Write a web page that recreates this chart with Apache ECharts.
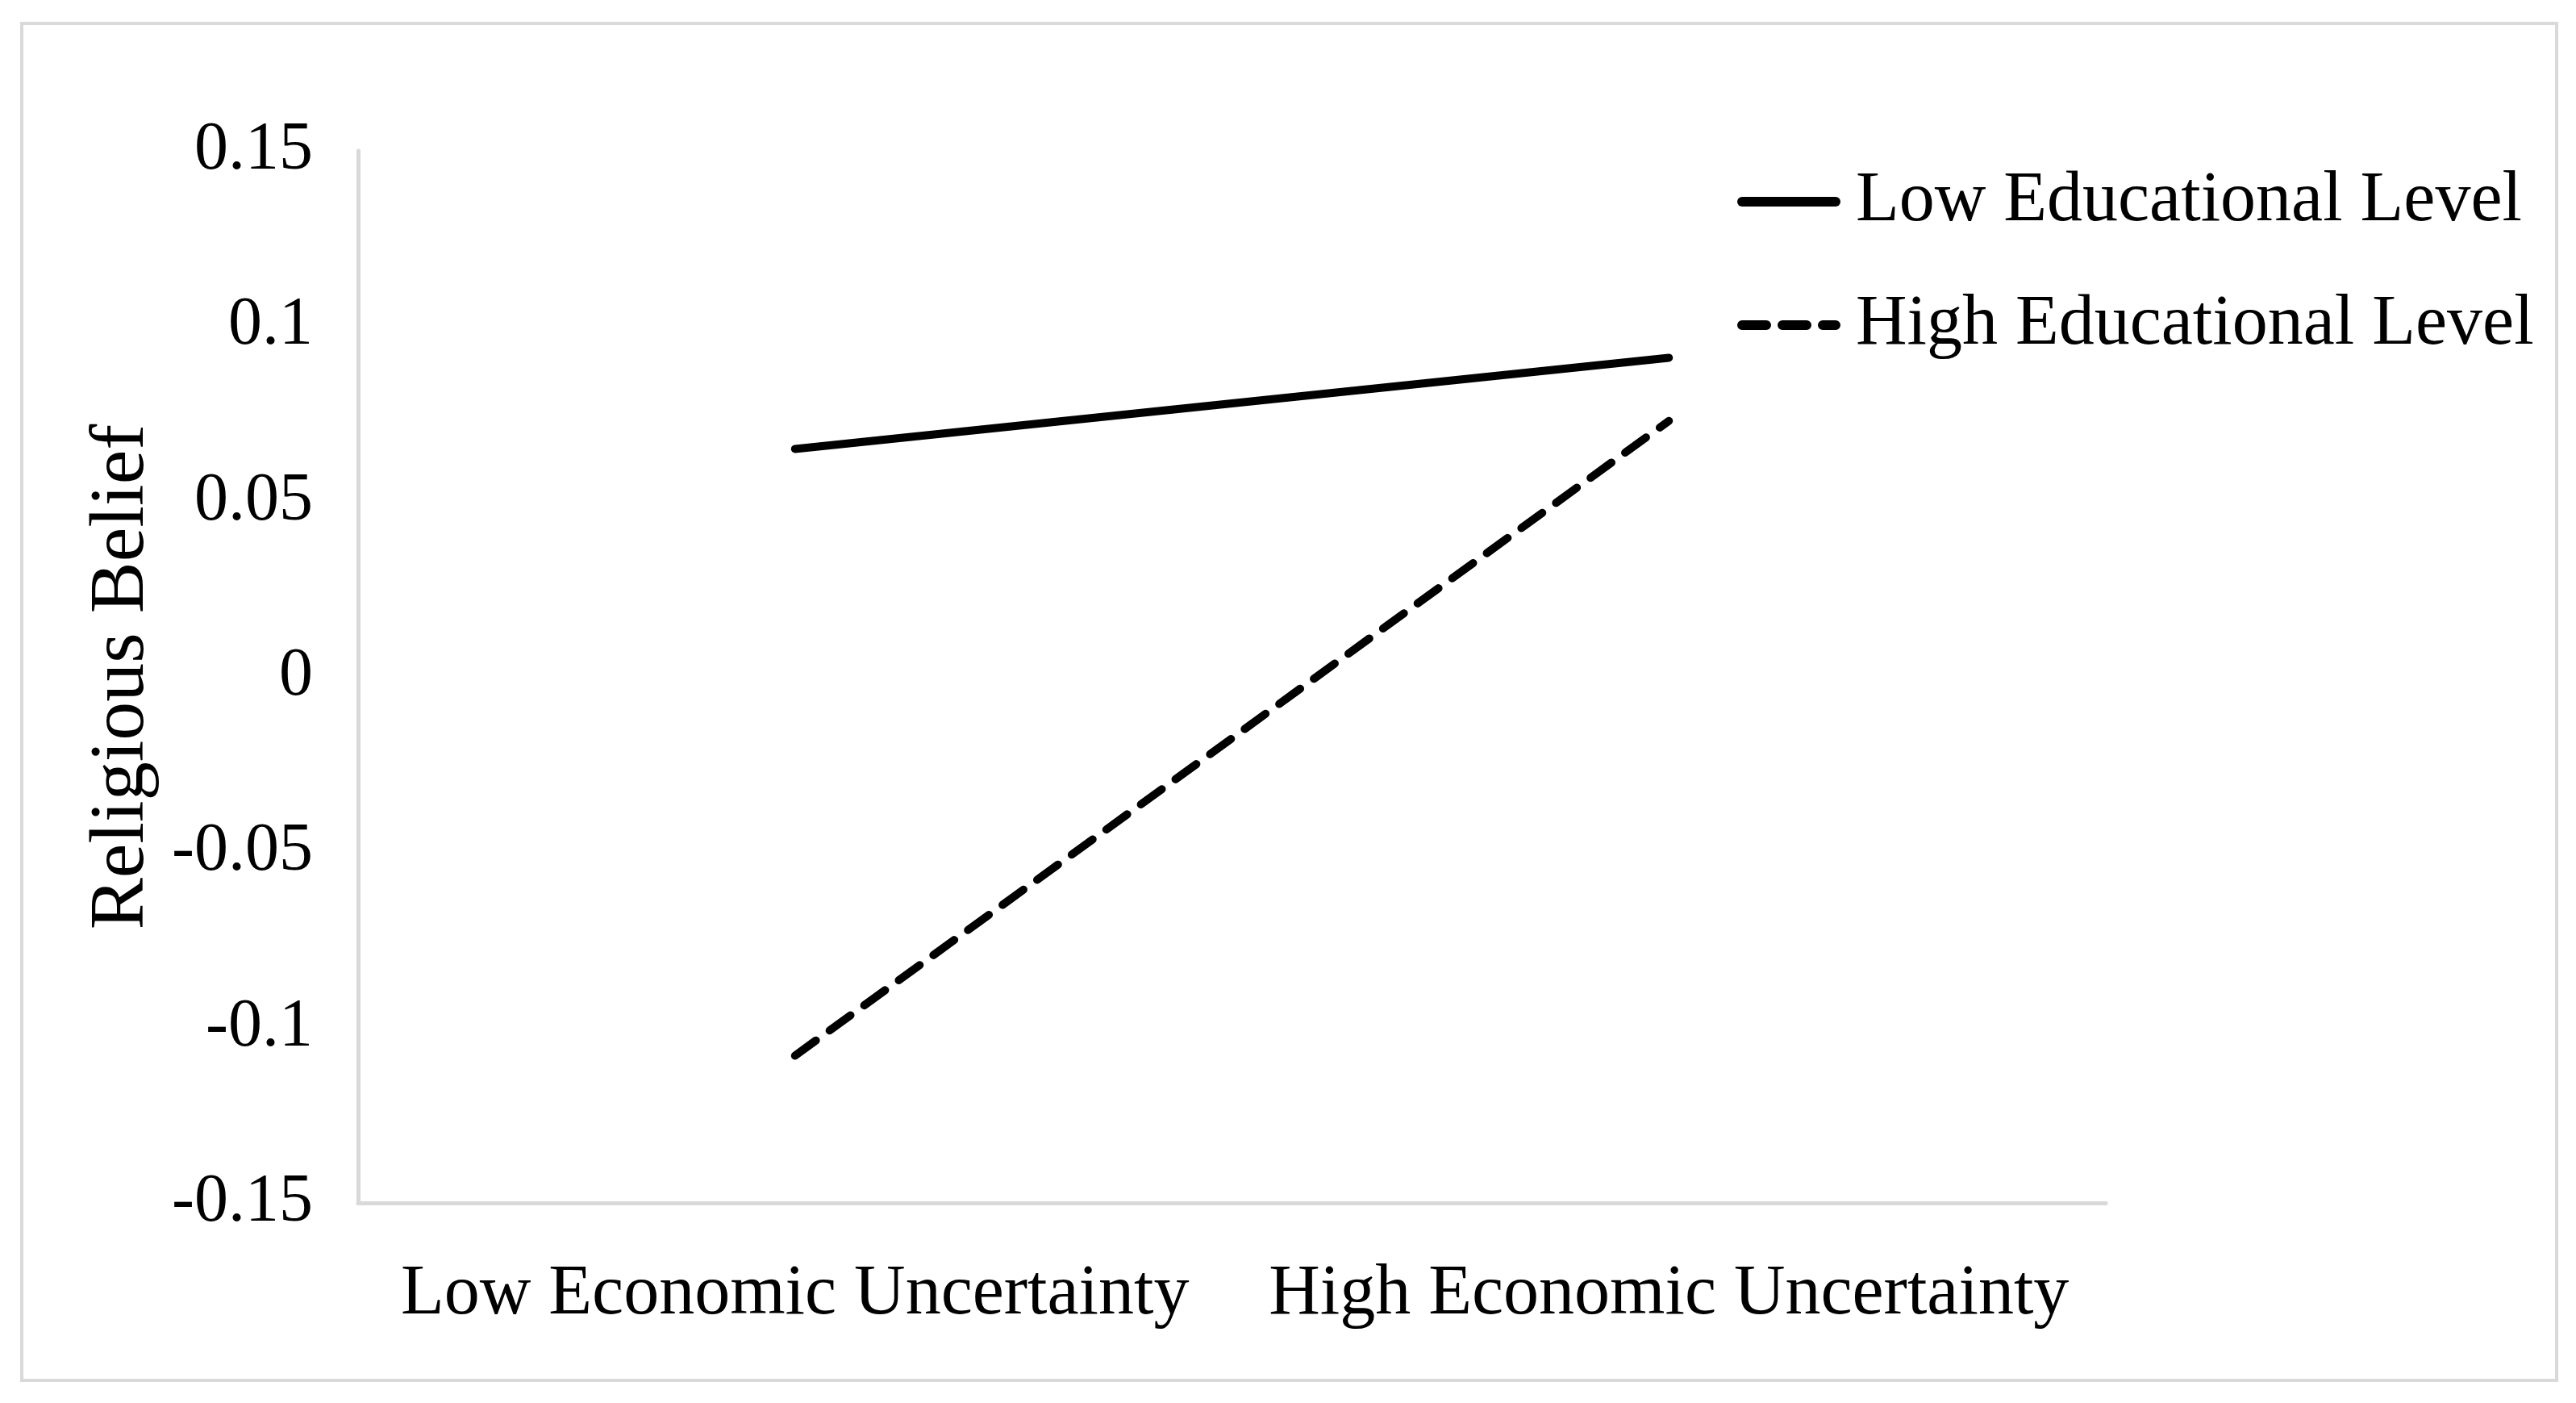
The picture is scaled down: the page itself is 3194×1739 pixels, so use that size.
<!DOCTYPE html>
<html>
<head>
<meta charset="utf-8">
<script src="https://cdn.jsdelivr.net/npm/echarts@6/dist/echarts.min.js"></script>
<style>
html,body{margin:0;padding:0;background:#fff;}
#chart{width:3194px;height:1739px;}
</style>
</head>
<body>
<div id="chart"></div>
<script>
const categories = ['Low Economic Uncertainty', 'High Economic Uncertainty'];
const seriesNames = ['Low Educational Level', 'High Educational Level'];
const lowEduValues = [0.065, 0.091];
const highEduValues = [-0.108, 0.073];
const yAxisName = 'Religious Belief';

const FONT = '"Liberation Serif", "DejaVu Serif", serif';
const FS_TICK = 84;
const FS_TEXT = 88;

// legend icons: thick solid bar and three rounded dashes
const solidIcon = 'path://M6,0 H122 A6,6 0 0 1 122,12 H6 A6,6 0 0 1 6,0 Z';
const dashIcon = 'path://M6,0 H36 A6,6 0 0 1 36,12 H6 A6,6 0 0 1 6,0 Z ' +
                 'M56,0 H86 A6,6 0 0 1 86,12 H56 A6,6 0 0 1 56,0 Z ' +
                 'M106,0 H122 A6,6 0 0 1 122,12 H106 A6,6 0 0 1 106,0 Z';

const chart = echarts.init(document.getElementById('chart'));
chart.setOption({
  backgroundColor: '#ffffff',
  animation: false,
  graphic: [{
    type: 'rect',
    shape: {x: 27, y: 29, width: 3143, height: 1682},
    style: {fill: 'none', stroke: '#d9d9d9', lineWidth: 4},
    silent: true
  }],
  grid: {left: 444, top: 187, right: 583, bottom: 248, containLabel: false},
  legend: {
    left: 2149,
    top: 201,
    orient: 'vertical',
    itemWidth: 128,
    itemHeight: 12,
    itemGap: 65,
    itemStyle: {color: '#000', borderWidth: 0},
    textStyle: {fontFamily: FONT, fontSize: FS_TEXT, color: '#000', padding: [0, 0, 0, 14]},
    data: [
      {name: seriesNames[0], icon: solidIcon},
      {name: seriesNames[1], icon: dashIcon}
    ]
  },
  xAxis: {
    type: 'category',
    data: categories,
    boundaryGap: true,
    axisLine: {show: true, onZero: false, lineStyle: {color: '#d9d9d9', width: 5}},
    axisTick: {show: false},
    splitLine: {show: false},
    axisLabel: {fontFamily: FONT, fontSize: FS_TEXT, color: '#000', margin: 70, interval: 0}
  },
  yAxis: {
    type: 'value',
    min: -0.15,
    max: 0.15,
    interval: 0.05,
    name: yAxisName,
    nameLocation: 'middle',
    nameRotate: 90,
    nameGap: 244,
    nameTextStyle: {fontFamily: FONT, fontSize: 96, color: '#000'},
    axisLine: {show: true, lineStyle: {color: '#d9d9d9', width: 5}},
    axisTick: {show: false},
    splitLine: {show: false},
    axisLabel: {fontFamily: FONT, fontSize: FS_TICK, color: '#000', margin: 56,
      formatter: v => String(Math.round(v * 100) / 100)}
  },
  series: [
    {
      name: seriesNames[0],
      type: 'line',
      data: lowEduValues,
      symbol: 'none',
      lineStyle: {color: '#000', width: 10, cap: 'round', type: 'solid'},
      itemStyle: {color: '#000'}
    },
    {
      name: seriesNames[1],
      type: 'line',
      data: highEduValues,
      symbol: 'none',
      lineStyle: {color: '#000', width: 10, cap: 'round', type: [32, 21]},
      itemStyle: {color: '#000'}
    }
  ]
});
</script>
</body>
</html>
